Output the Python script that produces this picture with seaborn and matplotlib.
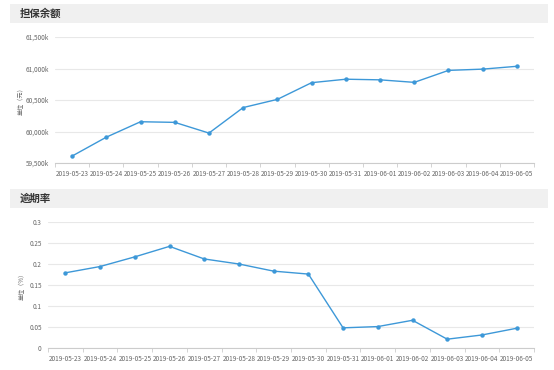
import pandas as pd
import matplotlib
matplotlib.use("Agg")
import matplotlib.pyplot as plt
import seaborn as sns
from matplotlib.patches import Rectangle
from matplotlib.ticker import FuncFormatter, FixedLocator

# --- Data ---
DATES = ['2019-05-23', '2019-05-24', '2019-05-25', '2019-05-26', '2019-05-27',
         '2019-05-28', '2019-05-29', '2019-05-30', '2019-05-31', '2019-06-01',
         '2019-06-02', '2019-06-03', '2019-06-04', '2019-06-05']
BALANCE_K = [59610, 59910, 60155, 60145, 59975, 60380, 60510,
             60775, 60830, 60820, 60780, 60970, 60990, 61035]
OVERDUE_RATE = [0.179, 0.194, 0.217, 0.242, 0.212, 0.200, 0.183,
                0.176, 0.048, 0.051, 0.066, 0.021, 0.031, 0.047]

TITLES = ['担保余额', '逾期率']
UNITS = ['单位（元）', '单位（%）']

LINE_COLOR = '#3d98d8'
GRID_COLOR = '#e8e8e8'
TEXT_COLOR = '#666666'

sns.set_theme(style="white")
plt.rcParams['font.family'] = ['Noto Sans CJK SC', 'DejaVu Sans']

W, H = 554, 370
fig = plt.figure(figsize=(W / 100, H / 100), dpi=100)
fig.patch.set_facecolor('white')


def px_axes(left, top, right, bottom):
    return fig.add_axes([left / W, 1 - bottom / H, (right - left) / W, (bottom - top) / H])


def header(top, text):
    # grey title strip above each panel
    fig.patches.append(Rectangle((10 / W, 1 - (top + 18.5) / H), 538 / W, 18.5 / H,
                                 transform=fig.transFigure, facecolor='#f0f0f0',
                                 edgecolor='none', zorder=0))
    fig.text(20 / W, 1 - (top + 9.5) / H, text, fontsize=7.5, fontweight='bold',
             color='#333333', va='center', ha='left')


def draw_panel(ax, values, ylim, yticks, fmt, unit, label_x):
    df = pd.DataFrame({'pos': range(len(DATES)), 'value': values})
    sns.lineplot(data=df, x='pos', y='value', ax=ax, color=LINE_COLOR,
                 linewidth=1.0, marker='o', markersize=3.2,
                 markeredgecolor=LINE_COLOR, markeredgewidth=0)
    ax.set_xlim(-0.5, len(DATES) - 0.5)
    ax.set_ylim(*ylim)
    ax.set_yticks(yticks)
    ax.yaxis.set_major_formatter(FuncFormatter(fmt))
    ax.set_xticks(range(len(DATES)))
    ax.set_xticklabels(DATES)
    ax.xaxis.set_minor_locator(FixedLocator([i - 0.5 for i in range(len(DATES) + 1)]))
    ax.tick_params(axis='x', which='major', length=0, labelsize=4.6,
                   labelcolor=TEXT_COLOR, pad=5)
    ax.tick_params(axis='x', which='minor', length=3, color='#cccccc', width=0.6,
                   direction='out', bottom=True)
    ax.tick_params(axis='y', length=0, labelsize=4.6, labelcolor=TEXT_COLOR, pad=4.5)
    ax.grid(axis='y', color=GRID_COLOR, linewidth=0.8)
    ax.grid(axis='x', visible=False)
    for s in ['left', 'right', 'top']:
        ax.spines[s].set_visible(False)
    ax.spines['bottom'].set_color('#cccccc')
    ax.spines['bottom'].set_linewidth(0.8)
    ax.set_xlabel('')
    ax.set_ylabel('')
    pos = ax.get_position()
    fig.text(label_x / W, pos.y0 + pos.height / 2, unit, rotation=90, fontsize=4.4,
             color=TEXT_COLOR, ha='center', va='center')


# top panel
header(4, TITLES[0])
ax1 = px_axes(55, 37, 534, 163)
draw_panel(ax1, BALANCE_K, (59500, 61500), [59500, 60000, 60500, 61000, 61500],
           lambda v, p: f'{v:,.0f}k', UNITS[0], 20)

# bottom panel
header(189, TITLES[1])
ax2 = px_axes(48, 222, 534, 348)
draw_panel(ax2, OVERDUE_RATE, (0, 0.3), [0, 0.05, 0.1, 0.15, 0.2, 0.25, 0.3],
           lambda v, p: f'{v:g}', UNITS[1], 21)

fig.savefig('out.png', dpi=100, facecolor='white')
